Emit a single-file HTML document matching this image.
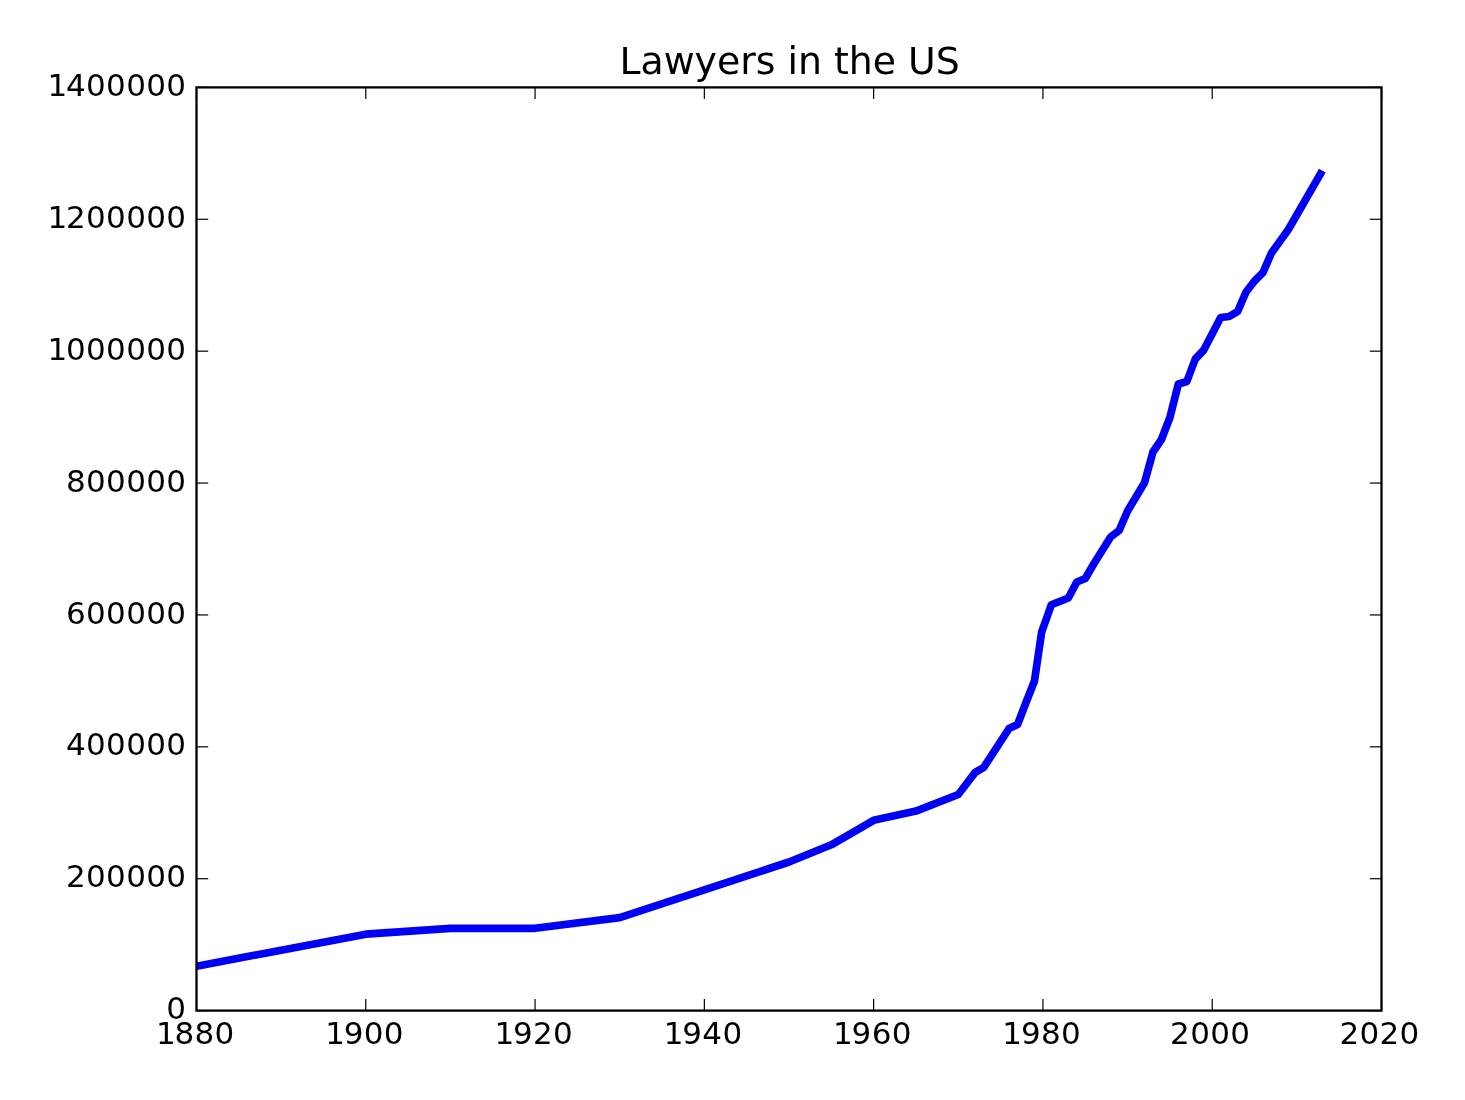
<!DOCTYPE html>
<html><head><meta charset="utf-8"><title>Lawyers in the US</title>
<style>
html,body{margin:0;padding:0;background:#fff;}
body{width:1465px;height:1100px;overflow:hidden;}
.wrap{width:1465px;height:1100px;will-change:transform;background:#fff;}
svg{display:block;}
text{font-family:"DejaVu Sans","Liberation Sans",sans-serif;fill:#000;}
.tl text{fill:#000;}
</style></head><body>
<div class="wrap">
<svg width="1465" height="1100" viewBox="0 0 1465 1100">
<rect width="1465" height="1100" fill="#fff"/>
<defs><clipPath id="ax"><rect x="196.5" y="87.4" width="1185.0" height="923.2"/></clipPath></defs>
<path d="M196.50,966.20 L365.79,934.20 L450.43,928.30 L535.07,928.30 L619.71,917.60 L704.36,889.80 L789.00,862.00 L831.32,844.80 L873.64,820.30 L915.96,811.10 L958.29,794.50 L975.21,772.40 L983.68,767.50 L1009.07,728.50 L1017.54,724.50 L1026.00,702.50 L1034.46,681.00 L1041.66,632.00 L1051.39,604.80 L1068.32,598.00 L1076.79,582.00 L1085.25,578.50 L1093.71,564.00 L1110.64,537.00 L1119.11,530.50 L1127.57,511.00 L1144.50,482.70 L1152.96,452.00 L1161.43,439.50 L1169.89,417.50 L1178.36,384.00 L1186.82,381.50 L1195.29,359.00 L1203.75,350.00 L1220.68,317.50 L1229.14,316.50 L1237.61,311.50 L1246.07,292.00 L1254.54,281.00 L1263.00,272.50 L1271.46,253.00 L1288.39,229.50 L1322.33,170.60" fill="none" stroke="#0000f4" stroke-width="7.7" stroke-linejoin="round" stroke-linecap="butt" clip-path="url(#ax)"/>
<g stroke="#000" stroke-width="1.2"><line x1="196.50" y1="1010.6" x2="196.50" y2="998.9"/><line x1="196.50" y1="87.4" x2="196.50" y2="99.10000000000001"/><line x1="365.79" y1="1010.6" x2="365.79" y2="998.9"/><line x1="365.79" y1="87.4" x2="365.79" y2="99.10000000000001"/><line x1="535.07" y1="1010.6" x2="535.07" y2="998.9"/><line x1="535.07" y1="87.4" x2="535.07" y2="99.10000000000001"/><line x1="704.36" y1="1010.6" x2="704.36" y2="998.9"/><line x1="704.36" y1="87.4" x2="704.36" y2="99.10000000000001"/><line x1="873.64" y1="1010.6" x2="873.64" y2="998.9"/><line x1="873.64" y1="87.4" x2="873.64" y2="99.10000000000001"/><line x1="1042.93" y1="1010.6" x2="1042.93" y2="998.9"/><line x1="1042.93" y1="87.4" x2="1042.93" y2="99.10000000000001"/><line x1="1212.21" y1="1010.6" x2="1212.21" y2="998.9"/><line x1="1212.21" y1="87.4" x2="1212.21" y2="99.10000000000001"/><line x1="1381.50" y1="1010.6" x2="1381.50" y2="998.9"/><line x1="1381.50" y1="87.4" x2="1381.50" y2="99.10000000000001"/><line x1="196.5" y1="1010.60" x2="208.2" y2="1010.60"/><line x1="1381.5" y1="1010.60" x2="1369.8" y2="1010.60"/><line x1="196.5" y1="878.71" x2="208.2" y2="878.71"/><line x1="1381.5" y1="878.71" x2="1369.8" y2="878.71"/><line x1="196.5" y1="746.83" x2="208.2" y2="746.83"/><line x1="1381.5" y1="746.83" x2="1369.8" y2="746.83"/><line x1="196.5" y1="614.94" x2="208.2" y2="614.94"/><line x1="1381.5" y1="614.94" x2="1369.8" y2="614.94"/><line x1="196.5" y1="483.06" x2="208.2" y2="483.06"/><line x1="1381.5" y1="483.06" x2="1369.8" y2="483.06"/><line x1="196.5" y1="351.17" x2="208.2" y2="351.17"/><line x1="1381.5" y1="351.17" x2="1369.8" y2="351.17"/><line x1="196.5" y1="219.29" x2="208.2" y2="219.29"/><line x1="1381.5" y1="219.29" x2="1369.8" y2="219.29"/><line x1="196.5" y1="87.40" x2="208.2" y2="87.40"/><line x1="1381.5" y1="87.40" x2="1369.8" y2="87.40"/></g>
<rect x="196.5" y="87.4" width="1185.0" height="923.2" fill="none" stroke="#000" stroke-width="2.3"/>
<g font-size="31.0px" class="tl"><text x="155.90 174.45 194.50 214.55" y="1043.9">1880</text><text x="325.19 343.74 363.79 383.84" y="1043.9">1900</text><text x="494.47 513.02 533.07 553.12" y="1043.9">1920</text><text x="663.76 682.31 702.36 722.41" y="1043.9">1940</text><text x="833.04 851.59 871.64 891.69" y="1043.9">1960</text><text x="1002.33 1020.88 1040.93 1060.98" y="1043.9">1980</text><text x="1170.11 1190.16 1210.21 1230.26" y="1043.9">2000</text><text x="1339.40 1359.45 1379.50 1399.55" y="1043.9">2020</text><text x="166.25" y="1019.20">0</text><text x="66.00 86.05 106.10 126.15 146.20 166.25" y="887.31">200000</text><text x="66.00 86.05 106.10 126.15 146.20 166.25" y="755.43">400000</text><text x="66.00 86.05 106.10 126.15 146.20 166.25" y="623.54">600000</text><text x="66.00 86.05 106.10 126.15 146.20 166.25" y="491.66">800000</text><text x="47.45 66.00 86.05 106.10 126.15 146.20 166.25" y="359.77">1000000</text><text x="47.45 66.00 86.05 106.10 126.15 146.20 166.25" y="227.89">1200000</text><text x="47.45 66.00 86.05 106.10 126.15 146.20 166.25" y="96.00">1400000</text></g>
<text x="789.6" y="73.5" font-size="36.4px" text-anchor="middle" textLength="340.4" lengthAdjust="spacingAndGlyphs">Lawyers in the US</text>
</svg>
</div>
</body></html>
